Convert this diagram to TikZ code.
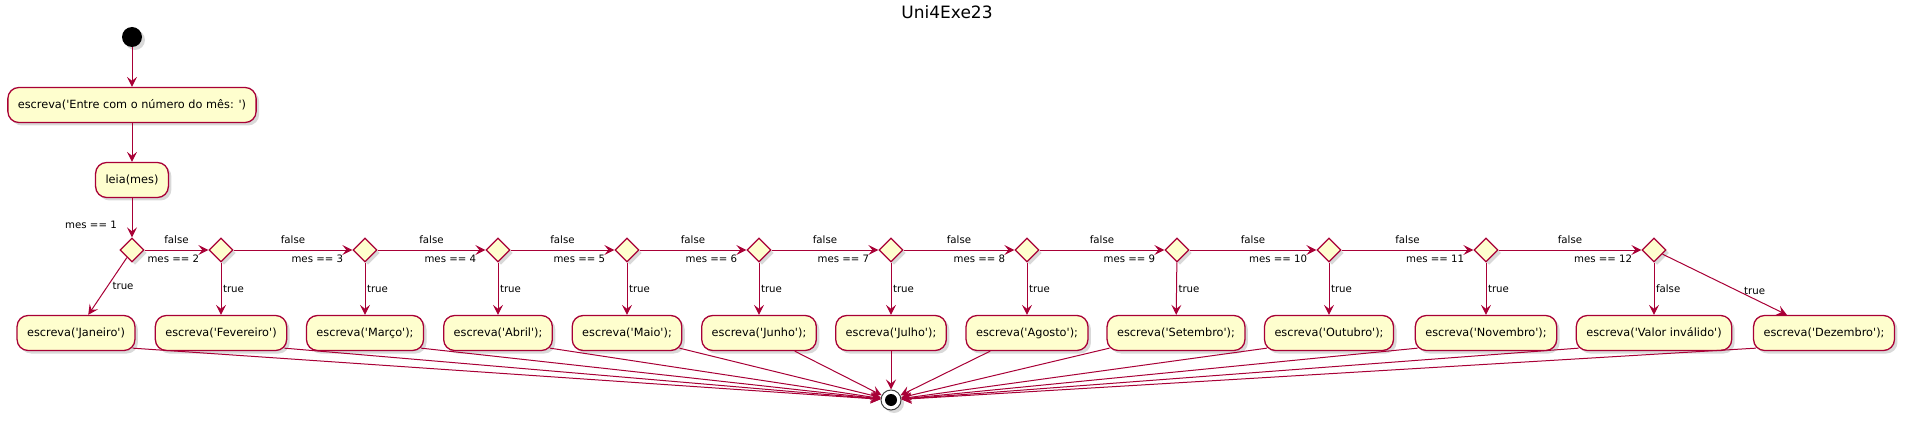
\documentclass[tikz,border=0pt]{standalone}
\usepackage{fontspec}
\setmainfont{DejaVu Sans}[Ligatures=TeXOff]
\usepackage{xcolor}
\usepackage{tikz}
\usetikzlibrary{arrows.meta, positioning, shapes.geometric, shadows}

\definecolor{umlred}{HTML}{A80036}
\definecolor{umlyellow}{HTML}{FEFECE}

\tikzset{
  act/.style={rectangle, rounded corners=11pt, draw=umlred, fill=umlyellow, line width=1.3pt,
    minimum height=35pt, inner xsep=10pt, font=\fontsize{11.3}{13}\selectfont,
    drop shadow={shadow xshift=3pt, shadow yshift=-3pt, opacity=.3}},
  test/.style={diamond, draw=umlred, fill=umlyellow, line width=1.3pt, minimum width=24pt,
    minimum height=24pt, inner sep=0pt, drop shadow={shadow xshift=3pt, shadow yshift=-3pt, opacity=.3}},
  flow/.style={draw=umlred, line width=1pt, -{Stealth[length=10pt, width=10pt, inset=4pt]}},
  lbl/.style={font=\fontsize{10.2}{12}\selectfont, inner sep=1.5pt},
  cond/.style={lbl, anchor=north east, xshift=-7.5pt, yshift=-3pt},
}

\begin{document}
\begin{tikzpicture}[x=1pt, y=-1pt]
  \useasboundingbox (0,0) rectangle (1908,422);
  \node[font=\fontsize{17}{20}\selectfont] (title) at (947,12) {Uni4Exe23};

  \node[circle, fill=black, minimum size=20pt, inner sep=0pt,
    drop shadow={shadow xshift=3pt, shadow yshift=-3pt, opacity=.3}] (start) at (132,37) {};
  \node[act] (entre) at (132,105) {escreva('Entre com o número do mês: ')};
  \node[act] (leia) at (132,180) {leia(mes)};

  % tests
  \node[test, label={[lbl, anchor=south east, xshift=-13.5pt, yshift=7.5pt]north:{mes == 1}}] (t1) at (132,250) {};
  \node[test, label={[cond]west:{mes == 2}}] (t2) at (221,250) {};
  \node[test, label={[cond]west:{mes == 3}}] (t3) at (365,250) {};
  \node[test, label={[cond]west:{mes == 4}}] (t4) at (498,250) {};
  \node[test, label={[cond]west:{mes == 5}}] (t5) at (627,250) {};
  \node[test, label={[cond]west:{mes == 6}}] (t6) at (759,250) {};
  \node[test, label={[cond]west:{mes == 7}}] (t7) at (891,250) {};
  \node[test, label={[cond]west:{mes == 8}}] (t8) at (1027,250) {};
  \node[test, label={[cond]west:{mes == 9}}] (t9) at (1177,250) {};
  \node[test, label={[cond]west:{mes == 10}}] (t10) at (1329,250) {};
  \node[test, label={[cond]west:{mes == 11}}] (t11) at (1486,250) {};
  \node[test, label={[cond]west:{mes == 12}}] (t12) at (1654,250) {};

  % outputs
  \node[act] (jan) at (76,333) {escreva('Janeiro')};
  \node[act] (fev) at (221,333) {escreva('Fevereiro')};
  \node[act] (mar) at (365,333) {escreva('Março');};
  \node[act] (abr) at (498,333) {escreva('Abril');};
  \node[act] (mai) at (627,333) {escreva('Maio');};
  \node[act] (jun) at (759,333) {escreva('Junho');};
  \node[act] (jul) at (891,333) {escreva('Julho');};
  \node[act] (ago) at (1027,333) {escreva('Agosto');};
  \node[act] (set) at (1176,333) {escreva('Setembro');};
  \node[act] (out) at (1329,333) {escreva('Outubro');};
  \node[act] (nov) at (1486,333) {escreva('Novembro');};
  \node[act] (inval) at (1654,333) {escreva('Valor inválido')};
  \node[act] (dez) at (1824,333) {escreva('Dezembro');};

  \node[circle, draw=black!75, fill=white, line width=1pt, minimum size=20pt, inner sep=0pt,
    drop shadow={shadow xshift=3pt, shadow yshift=-3pt, opacity=.3}] (end) at (891,400) {};
  \fill (end.center) circle (6pt);

  \draw[flow] (start) -- (entre);
  \draw[flow] (entre) -- (leia);
  \draw[flow] (leia) -- (t1);

  \draw[flow] (t1) -- node[lbl, above=4pt] {false} (t2);
  \draw[flow] (t2) -- node[lbl, above=4pt] {false} (t3);
  \draw[flow] (t3) -- node[lbl, above=4pt] {false} (t4);
  \draw[flow] (t4) -- node[lbl, above=4pt] {false} (t5);
  \draw[flow] (t5) -- node[lbl, above=4pt] {false} (t6);
  \draw[flow] (t6) -- node[lbl, above=4pt] {false} (t7);
  \draw[flow] (t7) -- node[lbl, above=4pt] {false} (t8);
  \draw[flow] (t8) -- node[lbl, above=4pt] {false} (t9);
  \draw[flow] (t9) -- node[lbl, above=4pt] {false} (t10);
  \draw[flow] (t10) -- node[lbl, above=4pt] {false} (t11);
  \draw[flow] (t11) -- node[lbl, above=4pt] {false} (t12);

  \draw[flow] (t1) -- node[lbl, right, xshift=3pt] {true} (jan);
  \draw[flow] (t2) -- node[lbl, right] {true} (fev);
  \draw[flow] (t3) -- node[lbl, right] {true} (mar);
  \draw[flow] (t4) -- node[lbl, right] {true} (abr);
  \draw[flow] (t5) -- node[lbl, right] {true} (mai);
  \draw[flow] (t6) -- node[lbl, right] {true} (jun);
  \draw[flow] (t7) -- node[lbl, right] {true} (jul);
  \draw[flow] (t8) -- node[lbl, right] {true} (ago);
  \draw[flow] (t9) -- node[lbl, right] {true} (set);
  \draw[flow] (t10) -- node[lbl, right] {true} (out);
  \draw[flow] (t11) -- node[lbl, right] {true} (nov);
  \draw[flow] (t12) -- node[lbl, right] {false} (inval);
  \draw[flow] (t12) -- node[lbl, pos=.6, right=5pt] {true} (dez);

  % everything ends here
  \draw[flow] ([xshift=-3pt, yshift=3pt]jan.south east) -- (end);
  \draw[flow] ([xshift=-3pt, yshift=3pt]fev.south east) -- (end);
  \draw[flow] ([xshift=-3pt, yshift=3pt]mar.south east) -- (end);
  \draw[flow] ([xshift=-3pt, yshift=3pt]abr.south east) -- (end);
  \draw[flow] ([xshift=-3pt, yshift=3pt]mai.south east) -- (end);
  \draw[flow] (jun) -- (end);
  \draw[flow] (jul) -- (end);
  \draw[flow] (ago) -- (end);
  \draw[flow] ([xshift=3pt, yshift=3pt]set.south west) -- (end);
  \draw[flow] ([xshift=3pt, yshift=3pt]out.south west) -- (end);
  \draw[flow] ([xshift=3pt, yshift=3pt]nov.south west) -- (end);
  \draw[flow] ([xshift=3pt, yshift=3pt]inval.south west) -- (end);
  \draw[flow] ([xshift=3pt, yshift=3pt]dez.south west) -- (end);
\end{tikzpicture}
\end{document}
